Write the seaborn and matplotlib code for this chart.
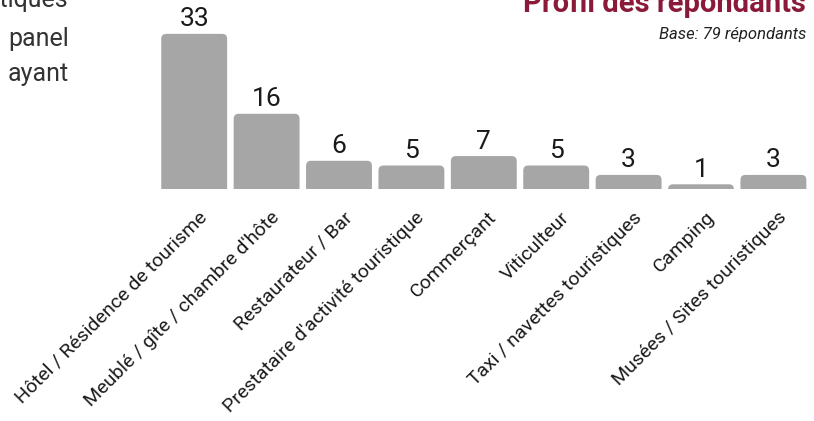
import matplotlib
matplotlib.use("Agg")
import matplotlib.pyplot as plt
import matplotlib.transforms as mtrans
from matplotlib.patches import FancyBboxPatch
import seaborn as sns
import pandas as pd

categories = ["Hôtel / Résidence de tourisme", "Meublé / gîte / chambre d'hôte",
              "Restaurateur / Bar", "Prestataire d'activité touristique", "Commerçant",
              "Viticulteur", "Taxi / navettes touristiques", "Camping",
              "Musées / Sites touristiques"]
values = [33, 16, 6, 5, 7, 5, 3, 1, 3]
title = "Profil des répondants"
subtitle = "Base: 79 répondants"
left_lines = ["touristiques", "panel", "ayant"]

sns.set_theme(style="white")
fam = ["Roboto", "DejaVu Sans"]
plt.rcParams["font.family"] = fam

df = pd.DataFrame({"cat": categories, "val": values})
fig = plt.figure(figsize=(8.14, 4.21), dpi=100)
ax = fig.add_axes([158 / 814, 1 - 189 / 421, 651.6 / 814, 189 / 421])
sns.barplot(data=df, x="cat", y="val", color="#A6A6A6", saturation=1, width=0.91, ax=ax)
ax.set_xlim(-0.5, 8.5)
ax.set_ylim(0, 40.2)

# rounded top corners
px_x = 651.6 / 9.0
px_y = 189 / 40.2
rs = 5 / px_x
aspect = (5 / px_y) / rs
for p in list(ax.patches):
    x0, w, h = p.get_x(), p.get_width(), p.get_height()
    fb = FancyBboxPatch((x0, -3), w, h + 3,
                        boxstyle=f"round,pad=0,rounding_size={rs}",
                        mutation_aspect=aspect, facecolor="#A6A6A6",
                        edgecolor="none")
    ax.add_patch(fb)
    p.set_visible(False)

for i, v in enumerate(values):
    ax.text(i, v + 1.6, str(v), ha="center", va="baseline", fontsize=19,
            color="#1a1a1a")
ax.set_xlabel("")
ax.set_ylabel("")
ax.set_yticks([])
ax.tick_params(axis="x", length=0, pad=14)
offset = mtrans.ScaledTranslation(4 / 100, 0, fig.dpi_scale_trans)
for lab in ax.get_xticklabels():
    lab.set_rotation(45)
    lab.set_ha("right")
    lab.set_rotation_mode("anchor")
    lab.set_fontsize(14)
    lab.set_color("#1a1a1a")
    lab.set_transform(lab.get_transform() + offset)
for s in ax.spines.values():
    s.set_visible(False)

fig.text(806 / 814, 1 - 12 / 421, title, ha="right", va="baseline", fontsize=21,
         fontweight="bold", color="#8B1A3A")
fig.text(806 / 814, 1 - 39 / 421, subtitle, ha="right", va="baseline", fontsize=12,
         style="italic", color="#222222")
for line, yb in zip(left_lines, [7, 46, 81]):
    fig.text(69 / 814, 1 - yb / 421, line, ha="right", va="baseline", fontsize=18,
             color="#333333")

fig.savefig("out.png", dpi=100)
